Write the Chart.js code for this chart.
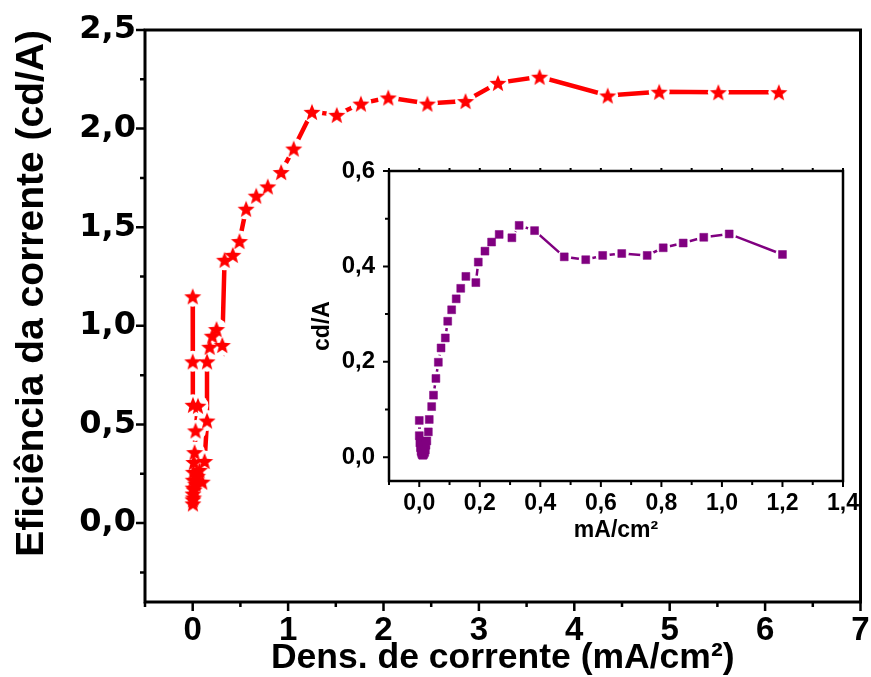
<!DOCTYPE html>
<html>
<head>
<meta charset="utf-8">
<script src="https://cdn.jsdelivr.net/npm/chart.js@4.4.0/dist/chart.umd.min.js"></script>
<style>
html, body { margin: 0; padding: 0; background: #fff; }
#wrap { position: relative; width: 871px; height: 677px; }
#mainChart { position: absolute; left: 0; top: 0; }
#insetChart { position: absolute; left: 290px; top: 150px; }
</style>
</head>
<body>
<div id="wrap">
  <canvas id="mainChart" width="871" height="677"></canvas>
  <canvas id="insetChart" width="570" height="410"></canvas>
</div>
<script>
// main curve: current density (mA/cm2) vs current efficiency (cd/A)
var mainCurrent = [0.000, 0.000, 0.003, 0.055, 0.030, 0.020, 0.012, 0.008, 0.006, 0.004, 0.003, 0.002,
  0.002, 0.008, 0.015, 0.030, 0.050, 0.070, 0.100, 0.125, 0.150, 0.150, 0.178, 0.205, 0.250, 0.310,
  0.334, 0.420, 0.490, 0.560, 0.666, 0.787, 0.927, 1.059, 1.250, 1.510, 1.763, 2.050, 2.460, 2.860,
  3.200, 3.636, 4.350, 4.890, 5.510, 6.144];
var mainEfficiency = [1.15, 0.82, 0.60, 0.595, 0.47, 0.36, 0.31, 0.26, 0.22, 0.18, 0.15, 0.12,
  0.10, 0.13, 0.17, 0.20, 0.24, 0.27, 0.21, 0.315, 0.52, 0.82, 0.894, 0.95, 0.984, 0.903,
  1.335, 1.36, 1.43, 1.594, 1.66, 1.707, 1.78, 1.899, 2.085, 2.07, 2.127, 2.158, 2.127, 2.14,
  2.232, 2.263, 2.168, 2.187, 2.185, 2.185];

// inset curve
var insetCurrent = [0.000, 0.000, 0.002, 0.004, 0.006, 0.008, 0.010, 0.012, 0.015, 0.018, 0.020, 0.022,
  0.025, 0.030, 0.033, 0.041, 0.047, 0.055, 0.063, 0.072, 0.086, 0.094, 0.107, 0.122, 0.137,
  0.154, 0.187, 0.195, 0.217, 0.239, 0.264, 0.306, 0.330, 0.381, 0.479, 0.550, 0.606, 0.669,
  0.753, 0.806, 0.872, 0.940, 1.024, 1.200];
var insetEfficiency = [0.077, 0.045, 0.030, 0.020, 0.012, 0.008, 0.005, 0.004, 0.006, 0.010, 0.015, 0.025,
  0.034, 0.053, 0.079, 0.106, 0.130, 0.165, 0.199, 0.229, 0.250, 0.285, 0.309, 0.332, 0.354,
  0.379, 0.366, 0.409, 0.432, 0.451, 0.467, 0.460, 0.486, 0.475, 0.420, 0.414, 0.423, 0.427,
  0.423, 0.439, 0.449, 0.461, 0.468, 0.425];

// tick labels
var mainXTicks = [0, 1, 2, 3, 4, 5, 6, 7];
var mainYTicks = [0, 0.5, 1, 1.5, 2, 2.5];
var insetXTicks = [0, 0.2, 0.4, 0.6, 0.8, 1.0, 1.2, 1.4];
var insetYTicks = [0, 0.2, 0.4, 0.6];

function points(xs, ys) {
    return xs.map(function (x, i) { return { x: x, y: ys[i] }; });
}
function comma(v) {
    return v.toFixed(1).replace('.', ',');
}
function noPadX(s, h) { s.height = h; s.paddingLeft = 0; s.paddingRight = 0; }
function noPadY(s, w) { s.width = w; s.paddingTop = 0; s.paddingBottom = 0; }

// filled 5-point star used as marker
function starImage(color, r) {
    var c = document.createElement('canvas');
    var s = Math.ceil(r * 2 + 2);
    c.width = s; c.height = s;
    var g = c.getContext('2d');
    g.beginPath();
    for (var i = 0; i < 10; i++) {
        var rad = i % 2 ? r * 0.43 : r;
        var ang = -Math.PI / 2 + i * Math.PI / 5;
        var px = s / 2 + rad * Math.cos(ang), py = s / 2 + 1 + rad * Math.sin(ang);
        if (i) g.lineTo(px, py); else g.moveTo(px, py);
    }
    g.closePath();
    g.fillStyle = color;
    g.fill();
    return c;
}

// box around the plot + outside tick marks (major and minor)
var frameTicks = {
    id: 'frameTicks',
    afterDraw: function (chart, args, o) {
        var ctx = chart.ctx, a = chart.chartArea;
        var xs = chart.scales.x, ys = chart.scales.y;
        ctx.save();
        ctx.strokeStyle = '#000';
        ctx.lineWidth = o.lineWidth;
        function steps(scale, step, fn) {
            var n0 = Math.ceil(scale.min / step - 1e-6), n1 = Math.floor(scale.max / step + 1e-6);
            for (var n = n0; n <= n1; n++) fn(n * step);
        }
        function isMajor(v, step) {
            return Math.abs(v / step - Math.round(v / step)) < 1e-6;
        }
        ctx.beginPath();
        steps(xs, o.xMinor, function (v) {
            var px = xs.getPixelForValue(v);
            var len = isMajor(v, o.xMajor) ? o.majorLen : o.minorLen;
            ctx.moveTo(px, a.bottom); ctx.lineTo(px, a.bottom + len);
            if (o.topTicks) { ctx.moveTo(px, a.top); ctx.lineTo(px, a.top - o.topLen); }
        });
        steps(ys, o.yMinor, function (v) {
            var py = ys.getPixelForValue(v);
            var len = isMajor(v, o.yMajor) ? o.majorLen : o.minorLen;
            ctx.moveTo(a.left, py); ctx.lineTo(a.left - len, py);
        });
        ctx.stroke();
        ctx.lineWidth = o.frameWidth;
        ctx.strokeRect(a.left, a.top, a.right - a.left, a.bottom - a.top);
        ctx.restore();
    }
};

Chart.defaults.color = '#000';
Chart.defaults.animation = false;

// Chart main
var redStar = starImage('#ff0000', 9);
var ctx = document.getElementById('mainChart');
var myChart = new Chart(ctx, {
    type: 'scatter',
    data: {
        datasets: [{
            data: points(mainCurrent, mainEfficiency),
            pointStyle: redStar,
            showLine: false
        }, {
            data: points(mainCurrent, mainEfficiency),
            pointStyle: 'circle',
            pointRadius: 10.5,
            pointBackgroundColor: '#fff',
            pointBorderWidth: 0,
            showLine: false
        }, {
            data: points(mainCurrent, mainEfficiency),
            showLine: true,
            borderColor: '#ff0000',
            borderWidth: 4.5,
            pointRadius: 0
        }]
    },
    options: {
        responsive: false,
        layout: { padding: { top: 30, right: 9, left: 0, bottom: 0 } },
        plugins: { legend: { display: false }, tooltip: { enabled: false }, frameTicks: {
            lineWidth: 2.5, frameWidth: 3, majorLen: 9, minorLen: 5, topTicks: false,
            xMajor: 1, xMinor: 0.5, yMajor: 0.5, yMinor: 0.25
        } },
        scales: {
            x: {
                type: 'linear', min: -0.5, max: 7,
                afterFit: function (s) { noPadX(s, 75); },
                afterBuildTicks: function (s) { s.ticks = mainXTicks.map(function (v) { return { value: v }; }); },
                grid: { display: false, drawTicks: false },
                border: { display: false },
                ticks: {
                    autoSkip: false, maxRotation: 0, padding: 9,
                    font: { family: "'Liberation Sans', Arial, sans-serif", size: 33, weight: 'bold' },
                    callback: function (v) { return String(v); }
                },
                title: {
                    display: true, text: 'Dens. de corrente (mA/cm²)',
                    font: { family: "'Liberation Sans', Arial, sans-serif", size: 35.5, weight: 'bold', lineHeight: 1 },
                    padding: { top: 0, bottom: 1 }
                }
            },
            y: {
                type: 'linear', min: -0.4, max: 2.5,
                afterFit: function (s) { noPadY(s, 145); },
                afterBuildTicks: function (s) { s.ticks = mainYTicks.map(function (v) { return { value: v }; }); },
                grid: { display: false, drawTicks: false },
                border: { display: false },
                ticks: {
                    autoSkip: false, padding: 9,
                    font: { family: "'DejaVu Sans', sans-serif", size: 32, weight: 'bold' },
                    callback: function (v) { return comma(v); }
                },
                title: {
                    display: true, text: 'Eficiência da corrente (cd/A)', align: 'end',
                    font: { family: "'Liberation Sans', Arial, sans-serif", size: 39, weight: 'bold', lineHeight: 1 },
                    padding: { top: 13, bottom: 0 }
                }
            }
        }
    },
    plugins: [frameTicks]
});

// Chart inset
var ctx2 = document.getElementById('insetChart');
var insetChart = new Chart(ctx2, {
    type: 'scatter',
    data: {
        datasets: [{
            data: points(insetCurrent, insetEfficiency),
            pointStyle: 'rect',
            pointRadius: 5.6,
            pointBackgroundColor: '#800080',
            pointBorderColor: '#800080',
            pointBorderWidth: 0.5,
            showLine: false
        }, {
            data: points(insetCurrent, insetEfficiency),
            pointStyle: 'circle',
            pointRadius: 7,
            pointBackgroundColor: '#fff',
            pointBorderWidth: 0,
            showLine: false
        }, {
            data: points(insetCurrent, insetEfficiency),
            showLine: true,
            borderColor: '#800080',
            borderWidth: 2.5,
            pointRadius: 0
        }]
    },
    options: {
        responsive: false,
        layout: { padding: { top: 21, right: 17, left: 0, bottom: 0 } },
        plugins: { legend: { display: false }, tooltip: { enabled: false }, frameTicks: {
            lineWidth: 2, frameWidth: 2.5, majorLen: 6, minorLen: 4, topTicks: true, topLen: 3,
            xMajor: 0.2, xMinor: 0.1, yMajor: 0.2, yMinor: 0.1
        } },
        scales: {
            x: {
                type: 'linear', min: -0.1, max: 1.4,
                afterFit: function (s) { noPadX(s, 79); },
                afterBuildTicks: function (s) { s.ticks = insetXTicks.map(function (v) { return { value: v }; }); },
                grid: { display: false, drawTicks: false },
                border: { display: false },
                ticks: {
                    autoSkip: false, maxRotation: 0, padding: 9,
                    font: { family: "'Liberation Sans', Arial, sans-serif", size: 23, weight: 'bold' },
                    callback: function (v) { return comma(v); }
                },
                title: {
                    display: true, text: 'mA/cm²',
                    font: { family: "'Liberation Sans', Arial, sans-serif", size: 23, weight: 'bold', lineHeight: 1.2 },
                    padding: { top: 0, bottom: 16 }
                }
            },
            y: {
                type: 'linear', min: -0.05, max: 0.6,
                afterFit: function (s) { noPadY(s, 99); },
                afterBuildTicks: function (s) { s.ticks = insetYTicks.map(function (v) { return { value: v }; }); },
                grid: { display: false, drawTicks: false },
                border: { display: false },
                ticks: {
                    autoSkip: false, padding: 14,
                    font: { family: "'Liberation Sans', Arial, sans-serif", size: 24, weight: 'bold' },
                    callback: function (v) { return comma(v); }
                },
                title: {
                    display: true, text: 'cd/A',
                    font: { family: "'Liberation Sans', Arial, sans-serif", size: 23, weight: 'bold', lineHeight: 1.2 },
                    padding: { top: 19, bottom: 0 }
                }
            }
        }
    },
    plugins: [frameTicks]
});
</script>
</body>
</html>
